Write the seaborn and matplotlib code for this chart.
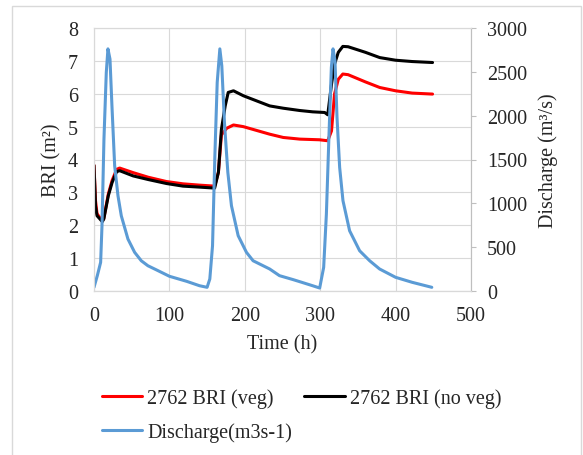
import pandas as pd
import matplotlib.pyplot as plt
import seaborn as sns
from matplotlib.patches import Rectangle

# BRI with vegetation (red)
time_veg = [0, 2, 4, 11, 13, 19, 24, 30, 34, 52, 72, 96, 118, 140, 160, 165, 169, 176, 185, 198,
            233, 251, 273, 299, 310, 315, 319, 324, 330, 337, 360, 379, 400, 422, 449]
bri_veg = [3.82, 2.75, 2.35, 2.13, 2.21, 2.95, 3.36, 3.70, 3.74, 3.60, 3.46, 3.33, 3.26, 3.22, 3.19, 3.61, 4.75, 4.95, 5.05, 5.00,
           4.77, 4.67, 4.62, 4.60, 4.57, 4.87, 5.99, 6.44, 6.60, 6.58, 6.36, 6.19, 6.09, 6.02, 5.99]

# BRI without vegetation (black)
time_noveg = [0, 2, 4, 11, 13, 19, 24, 30, 34, 52, 72, 96, 118, 140, 160, 165, 169, 174, 178, 185,
              198, 207, 233, 251, 273, 290, 306, 310, 315, 319, 324, 330, 337, 360, 379, 400, 422, 449]
bri_noveg = [3.82, 2.59, 2.29, 2.11, 2.19, 2.90, 3.30, 3.63, 3.66, 3.50, 3.39, 3.27, 3.19, 3.16, 3.13, 3.61, 4.92, 5.63, 6.04, 6.09,
             5.94, 5.86, 5.63, 5.56, 5.49, 5.45, 5.43, 5.36, 6.29, 6.90, 7.26, 7.44, 7.43, 7.26, 7.10, 7.02, 6.98, 6.95]

# discharge (blue, right axis)
time_q = [0, 4.4, 8.8, 10.6, 13.2, 16.3, 18.5, 21.2, 23.8, 27.4, 31.8, 36.2, 45, 53.9, 62.7, 71.5, 83, 100, 123, 140,
          150, 153.6, 157.2, 160.3, 163.4, 166.9, 169.5, 173, 177.5, 182.3, 191.2, 202.2, 211, 233, 246, 264, 273, 290, 299.3, 304.6,
          308.2, 311.7, 314.8, 317, 319.6, 322.3, 325.8, 330.2, 339, 352.3, 365.6, 378.8, 400, 422, 448]
discharge = [42, 175, 327, 745, 1733, 2493, 2762, 2645, 2112, 1428, 1086, 858, 593, 441, 345, 288, 240, 168, 110, 60,
             42, 137, 516, 1543, 2379, 2762, 2568, 1923, 1353, 973, 631, 441, 345, 251, 175, 130, 106, 60, 34, 270,
             878, 1790, 2550, 2762, 2625, 1980, 1410, 1030, 687, 459, 345, 251, 156, 99, 42]

labels = ['2762 BRI (veg)', '2762 BRI (no veg)', 'Discharge(m3s-1)']

fs = 14.5
sns.set_style('white')
plt.rcParams['font.family'] = ['Liberation Serif', 'DejaVu Serif']
plt.rcParams['font.size'] = fs

fig = plt.figure(figsize=(5.83, 4.56), dpi=100)
ax = fig.add_axes([94 / 583, 1 - 292 / 456, 377 / 583, 263 / 456])
ax2 = ax.twinx()

sns.lineplot(x=time_veg, y=bri_veg, ax=ax, color='#FF0000', lw=2.2, label=labels[0])
sns.lineplot(x=time_noveg, y=bri_noveg, ax=ax, color='#000000', lw=2.2, label=labels[1])
sns.lineplot(x=time_q, y=discharge, ax=ax2, color='#5B9BD5', lw=2.2, label=labels[2])

for a in (ax, ax2):
    if a.get_legend() is not None:
        a.get_legend().remove()

ax.set_xlim(0, 500)
ax.set_ylim(0, 8)
ax.set_xticks(range(0, 501, 100))
ax.set_yticks(range(0, 9))
ax2.set_ylim(0, 3000)
ax2.set_yticks(range(0, 3001, 500))

ax.grid(True, color='#D9D9D9', lw=0.8)
ax.set_axisbelow(True)
for a in (ax, ax2):
    for s in a.spines.values():
        s.set_color('#D9D9D9')
        s.set_linewidth(0.8)
ax.spines['bottom'].set_color('#BFBFBF')
ax2.spines['right'].set_color('#BFBFBF')

ax.tick_params(axis='both', length=0, pad=11, labelsize=fs)
ax.tick_params(axis='y', pad=11.5)
ax2.tick_params(axis='y', direction='out', length=3.6, color='#BFBFBF', pad=8, labelsize=fs)

ax.set_xlabel('Time (h)', fontsize=fs)
ax.set_ylabel('BRI (m²)', fontsize=fs)
ax2.set_ylabel('Discharge (m³/s)', fontsize=fs)
ax.xaxis.set_label_coords(0.5, (292 - 345) / 263)
ax.xaxis.label.set_va('center')
ax.yaxis.set_label_coords((52 - 94) / 377, 0.5)
ax.yaxis.label.set_va('center')
ax2.yaxis.set_label_coords((548 - 94) / 377, 0.5)
ax2.yaxis.label.set_va('center')

# legend below the plot, row order: veg, no veg / discharge
h1, _ = ax.get_legend_handles_labels()
h2, _ = ax2.get_legend_handles_labels()
fig.legend([h1[0], h2[0], h1[1]], [labels[0], labels[2], labels[1]],
           ncol=2, loc='upper left', bbox_to_anchor=(102 / 583, 1 - 389 / 456),
           frameon=False, borderpad=0, borderaxespad=0, handlelength=2.0,
           handletextpad=0.25, columnspacing=0.6, labelspacing=0.72, fontsize=fs)

fig.add_artist(Rectangle((12 / 583, -0.05), (581 - 12) / 583, 1 - 7 / 456 + 0.05,
                         transform=fig.transFigure, fill=False, ec='#D9D9D9', lw=1))

fig.savefig('out.png', dpi=100)
